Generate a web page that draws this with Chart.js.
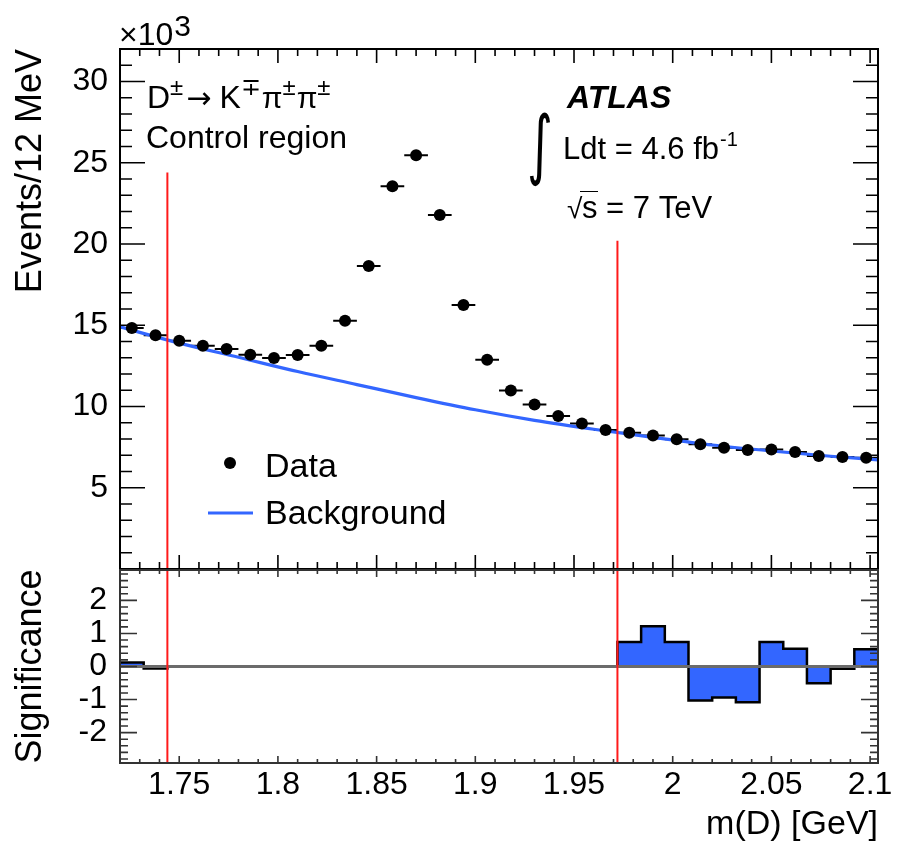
<!DOCTYPE html>
<html>
<head>
<meta charset="utf-8">
<script src="https://cdn.jsdelivr.net/npm/chart.js@4.4.1/dist/chart.umd.min.js"></script>
<style>
  body { margin: 0; background: #fff; }
  #wrap { position: relative; width: 898px; height: 842px; }
  canvas { position: absolute; left: 0; }
</style>
</head>
<body>
<div id="wrap">
  <canvas id="chart-main" width="898" height="575" style="top:0px"></canvas>
  <canvas id="chart-sig" width="898" height="282" style="top:560px"></canvas>
</div>
<script>
// D+- -> K pi pi control region, events per 12 MeV bin (x10^3)
var massCenters = [1.726, 1.738, 1.750, 1.762, 1.774, 1.786, 1.798, 1.810, 1.822, 1.834, 1.846,
  1.858, 1.870, 1.882, 1.894, 1.906, 1.918, 1.930, 1.942, 1.954, 1.966, 1.978, 1.990, 2.002,
  2.014, 2.026, 2.038, 2.050, 2.062, 2.074, 2.086, 2.098];
var binHalfWidth = 0.006;
var eventsK = [14.83, 14.38, 14.05, 13.74, 13.54, 13.19, 12.99, 13.17, 13.74, 15.28, 18.65,
  23.56, 25.46, 21.78, 16.24, 12.88, 10.98, 10.12, 9.41, 8.96, 8.55, 8.38, 8.22, 7.98,
  7.67, 7.46, 7.32, 7.36, 7.20, 6.95, 6.89, 6.85];

// background fit
var bkgMass = [1.72, 1.75, 1.78, 1.81, 1.84, 1.87, 1.90, 1.93, 1.96, 1.99, 2.02, 2.05, 2.08, 2.104];
var bkgEventsK = [14.9, 13.9, 13.03, 12.15, 11.35, 10.55, 9.8, 9.15, 8.6, 8.1, 7.63, 7.26, 6.94, 6.72];

// significance histogram (low bin edges + last upper edge)
var binEdges = [1.720, 1.732, 1.744, 1.756, 1.768, 1.780, 1.792, 1.804, 1.816, 1.828, 1.840,
  1.852, 1.864, 1.876, 1.888, 1.900, 1.912, 1.924, 1.936, 1.948, 1.960, 1.972, 1.984, 1.996,
  2.008, 2.020, 2.032, 2.044, 2.056, 2.068, 2.080, 2.092, 2.104];
var significance = [0.12, -0.06, 0, 0, 0, 0, 0, 0, 0, 0, 0, 0, 0, 0, 0, 0, 0, 0, 0, 0, 0,
  0.74, 1.22, 0.74, -1.03, -0.94, -1.08, 0.74, 0.54, -0.51, -0.07, 0.52];

// signal window cuts
var cutMass = [1.744, 1.972];
var cutTopK = [24.4, 20.2];

var xTicks = [1.75, 1.8, 1.85, 1.9, 1.95, 2, 2.05, 2.1];
var yTicksMain = [5, 10, 15, 20, 25, 30];
var yTicksSig = [-2, -1, 0, 1, 2];

var FONT = "'Liberation Sans', Arial, Helvetica, sans-serif";
var BLUE = '#3366ff';
Chart.defaults.font.family = FONT;
Chart.defaults.color = '#000';

function setTicks(list) {
  return function (scale) {
    scale.ticks = list.map(function (v) { return { value: v }; });
  };
}

// fixed axis sizes so both panels line up with the frame
function fixWidth(w) {
  return function (s) {
    s.width = w;
    s.paddingTop = 0; s.paddingBottom = 0;
  };
}
function fixHeight(h) {
  return function (s) {
    s.height = h;
    s.paddingLeft = 0; s.paddingRight = 0;
  };
}

// ROOT style frame with inward ticks on all four sides
var rootFrame = {
  id: 'rootFrame',
  afterDraw: function (chart, args, o) {
    var ctx = chart.ctx, a = chart.chartArea;
    var xs = chart.scales.x, ys = chart.scales.y;
    ctx.save();
    ctx.strokeStyle = o.color;
    ctx.lineWidth = 1.6;
    ctx.beginPath();
    var i, v, len, p;
    for (i = Math.ceil(xs.min / o.xMinor - 1e-6); i * o.xMinor <= xs.max + 1e-9; i++) {
      v = i * o.xMinor;
      len = Math.abs(v / o.xMajor - Math.round(v / o.xMajor)) < 1e-6 ? o.xMajorLen : o.xMinorLen;
      p = xs.getPixelForValue(v);
      ctx.moveTo(p, a.top); ctx.lineTo(p, a.top + len);
      ctx.moveTo(p, a.bottom); ctx.lineTo(p, a.bottom - len);
    }
    for (i = Math.ceil(ys.min / o.yMinor - 1e-6); i * o.yMinor <= ys.max + 1e-9; i++) {
      v = i * o.yMinor;
      len = Math.abs(v / o.yMajor - Math.round(v / o.yMajor)) < 1e-6 ? o.yMajorLen : o.yMinorLen;
      p = ys.getPixelForValue(v);
      ctx.moveTo(a.left, p); ctx.lineTo(a.left + len, p);
      ctx.moveTo(a.right, p); ctx.lineTo(a.right - len, p);
    }
    ctx.stroke();
    ctx.lineWidth = 2;
    ctx.strokeRect(a.left, a.top, a.right - a.left, a.bottom - a.top);
    ctx.restore();
  }
};

// horizontal bin-width bars under the data markers
var binErrors = {
  id: 'binErrors',
  beforeDatasetsDraw: function (chart) {
    var ctx = chart.ctx, xs = chart.scales.x, ys = chart.scales.y;
    ctx.save();
    ctx.strokeStyle = '#000';
    ctx.lineWidth = 2;
    ctx.beginPath();
    massCenters.forEach(function (m, i) {
      var y = ys.getPixelForValue(eventsK[i]);
      ctx.moveTo(xs.getPixelForValue(m - binHalfWidth), y);
      ctx.lineTo(xs.getPixelForValue(m + binHalfWidth), y);
    });
    ctx.stroke();
    ctx.restore();
  }
};

function put(ctx, s, x, y, size, style, family) {
  ctx.font = (style || '') + ' ' + size + 'px ' + (family || FONT);
  ctx.fillText(s, x, y);
  return x + ctx.measureText(s).width;
}

var labels = {
  id: 'labels',
  afterDraw: function (chart) {
    var ctx = chart.ctx;
    ctx.save();
    ctx.fillStyle = '#000';
    ctx.textAlign = 'left';
    ctx.textBaseline = 'alphabetic';

    var x = put(ctx, '\u00d710', 119, 45, 32);
    put(ctx, '3', x + 1, 36, 30);

    // D -> K pi pi decay label
    x = put(ctx, 'D', 147, 108, 32);
    x = put(ctx, '\u00b1', x, 95, 24);
    x = put(ctx, '\u2192', x + 3, 108, 30, '', '"DejaVu Sans"');
    x = put(ctx, 'K', x + 8, 108, 32);
    x = put(ctx, '\u2213', x, 95, 24);
    x = put(ctx, '\u03c0', x + 1, 108, 30);
    x = put(ctx, '\u00b1', x, 95, 24);
    x = put(ctx, '\u03c0', x + 1, 108, 30);
    put(ctx, '\u00b1', x, 95, 24);
    put(ctx, 'Control region', 146, 148, 32);

    put(ctx, 'ATLAS', 567, 108, 32, 'italic bold');
    ctx.save();
    ctx.translate(527, 170);
    ctx.scale(0.75, 1.15);
    ctx.font = '66px "DejaVu Sans"';
    ctx.fillText('\u222b', 0, 0);
    ctx.restore();
    x = put(ctx, 'Ldt = 4.6 fb', 563, 159, 31);
    put(ctx, '-1', x + 1, 146, 20);

    put(ctx, '\u221a', 567, 218, 28);
    ctx.strokeStyle = '#000';
    ctx.lineWidth = 1;
    ctx.beginPath();
    ctx.moveTo(580, 191.5); ctx.lineTo(598, 191.5);
    ctx.stroke();
    put(ctx, 's = 7 TeV', 582, 218, 31);

    // legend
    ctx.beginPath();
    ctx.arc(230, 463, 6, 0, Math.PI * 2);
    ctx.fill();
    put(ctx, 'Data', 265, 477, 34);
    ctx.strokeStyle = BLUE;
    ctx.lineWidth = 3;
    ctx.beginPath();
    ctx.moveTo(208, 513); ctx.lineTo(253, 513);
    ctx.stroke();
    put(ctx, 'Background', 265, 524, 34);
    ctx.restore();
  }
};

var mainDatasets = [{
  label: 'Data',
  data: massCenters.map(function (m, i) { return { x: m, y: eventsK[i] }; }),
  showLine: false,
  pointRadius: 6,
  pointBackgroundColor: '#000',
  pointBorderWidth: 0,
  order: 0
}, {
  label: 'Background',
  data: bkgMass.map(function (m, i) { return { x: m, y: bkgEventsK[i] }; }),
  borderColor: BLUE,
  borderWidth: 3.2,
  pointRadius: 0,
  cubicInterpolationMode: 'monotone',
  order: 2
}];
cutMass.forEach(function (m, i) {
  mainDatasets.push({
    data: [{ x: m, y: 0 }, { x: m, y: cutTopK[i] }],
    borderColor: '#ff1a1a',
    borderWidth: 2,
    pointRadius: 0,
    order: 1
  });
});

new Chart(document.getElementById('chart-main').getContext('2d'), {
  type: 'line',
  data: { datasets: mainDatasets },
  plugins: [binErrors, rootFrame, labels],
  options: {
    responsive: false,
    animation: false,
    events: [],
    layout: { padding: { top: 49, right: 20, bottom: 5, left: 0 } },
    plugins: {
      legend: { display: false },
      tooltip: { enabled: false },
      rootFrame: { color: '#000', xMajor: 0.05, xMinor: 0.01, xMajorLen: 14, xMinorLen: 7,
        yMajor: 5, yMinor: 1, yMajorLen: 25, yMinorLen: 12 }
    },
    scales: {
      x: {
        type: 'linear',
        min: 1.72,
        max: 2.104,
        display: false
      },
      y: {
        min: 0,
        max: 32,
        afterBuildTicks: setTicks(yTicksMain),
        afterFit: fixWidth(120),
        grid: { display: false, drawTicks: false },
        border: { display: false },
        ticks: { padding: 12, font: { size: 32 }, color: '#000' },
        title: {
          display: true,
          text: 'Events/12 MeV',
          align: 'end',
          color: '#000',
          font: { size: 36, lineHeight: 1 },
          padding: { top: 13, bottom: 0 }
        }
      }
    }
  }
});

var sigDatasets = [{
  label: 'Significance',
  data: binEdges.map(function (e, i) {
    return { x: e, y: significance[Math.min(i, significance.length - 1)] };
  }),
  stepped: 'before',
  borderColor: '#000',
  borderWidth: 2.5,
  backgroundColor: BLUE,
  fill: 'origin',
  pointRadius: 0,
  order: 3
}, {
  data: [{ x: binEdges[0], y: 0 }, { x: binEdges[binEdges.length - 1], y: 0 }],
  borderColor: '#6b6b6b',
  borderWidth: 3,
  pointRadius: 0,
  order: 2
}];
cutMass.forEach(function (m) {
  sigDatasets.push({
    data: [{ x: m, y: -2.92 }, { x: m, y: 2.92 }],
    borderColor: '#ff1a1a',
    borderWidth: 2,
    pointRadius: 0,
    order: 1
  });
});

new Chart(document.getElementById('chart-sig').getContext('2d'), {
  type: 'line',
  data: { datasets: sigDatasets },
  plugins: [rootFrame],
  options: {
    responsive: false,
    animation: false,
    events: [],
    layout: { padding: { top: 10, right: 20, bottom: 0, left: 0 } },
    plugins: {
      legend: { display: false },
      tooltip: { enabled: false },
      rootFrame: { color: '#333', xMajor: 0.05, xMinor: 0.01, xMajorLen: 7, xMinorLen: 4,
        yMajor: 1, yMinor: 0.2, yMajorLen: 17, yMinorLen: 8 }
    },
    scales: {
      x: {
        type: 'linear',
        min: 1.72,
        max: 2.104,
        afterBuildTicks: setTicks(xTicks),
        afterFit: fixHeight(79),
        grid: { display: false, drawTicks: false },
        border: { display: false },
        ticks: {
          padding: 3,
          maxRotation: 0,
          font: { size: 32 },
          color: '#000',
          callback: function (v) { return String(+v.toFixed(2)); }
        },
        title: {
          display: true,
          text: 'm(D) [GeV]',
          align: 'end',
          color: '#000',
          font: { size: 34, lineHeight: 1 },
          padding: { top: 0, bottom: 0 }
        }
      },
      y: {
        min: -2.92,
        max: 2.92,
        afterBuildTicks: setTicks(yTicksSig),
        afterFit: fixWidth(120),
        grid: { display: false, drawTicks: false },
        border: { display: false },
        ticks: { padding: 13, font: { size: 32 }, color: '#000' },
        title: {
          display: true,
          text: 'Significance',
          align: 'center',
          color: '#000',
          font: { size: 36, lineHeight: 1 },
          padding: { top: 13, bottom: 0 }
        }
      }
    }
  }
});
</script>
</body>
</html>
